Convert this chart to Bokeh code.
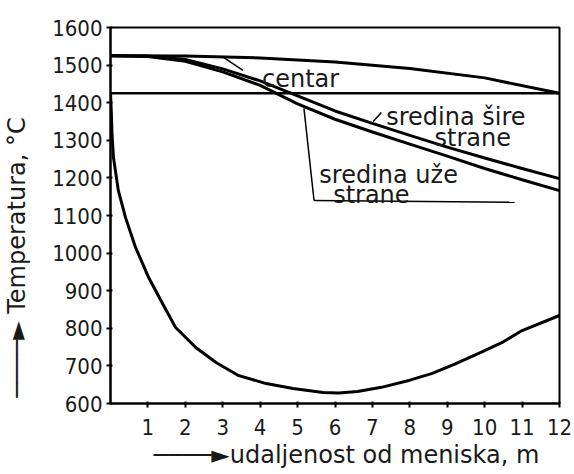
from bokeh.plotting import figure
from bokeh.models import FixedTicker
from bokeh.core.properties import value
from bokeh.embed import file_html
from bokeh.resources import INLINE

# ---- data ----
dist_center = [0, 2, 4, 6, 8, 10, 12]
temp_center = [1525, 1524, 1519, 1508, 1491, 1466, 1425]

dist_sides = [0, 1, 2, 3, 4, 5, 6, 7, 8, 9, 10, 11, 12]
temp_wide = [1525, 1524, 1515, 1490, 1458, 1418, 1378, 1345, 1313, 1282, 1253, 1225, 1198]
temp_narrow = [1525, 1523, 1510, 1482, 1446, 1397, 1356, 1322, 1290, 1258, 1225, 1195, 1166]

dist_ref = [0, 12]
temp_ref = [1425, 1425]

dist_surface = [0, 0.02, 0.04, 0.08, 0.21, 0.40, 0.67, 1.02, 1.39, 1.74, 2.28, 2.82, 3.43,
                4.16, 4.88, 5.68, 6.1, 6.6, 7.24, 8.0, 8.6, 9.2, 9.9, 10.5, 11.0, 12.0]
temp_surface = [1425, 1380, 1318, 1254, 1166, 1095, 1015, 935, 866, 802, 749, 709, 674,
                653, 640, 629, 628, 632, 643, 662, 680, 705, 736, 764, 794, 834]

x_ticks = [1, 2, 3, 4, 5, 6, 7, 8, 9, 10, 11, 12]
y_ticks = [600, 700, 800, 900, 1000, 1100, 1200, 1300, 1400, 1500, 1600]

label_texts = ["centar", "sredina šire", "strane", "sredina uže", "strane"]
label_x = [4.05, 7.37, 8.66, 5.58, 5.95]
label_y = [1464, 1361, 1305, 1208, 1155]

leader_x0 = [3.03, 7.02, 5.17, 5.44]
leader_y0 = [1520, 1350, 1385, 1140]
leader_x1 = [3.54, 7.24, 5.44, 10.8]
leader_y1 = [1486, 1374, 1140, 1135]

NB = "\u00a0"

p = figure(width=574, height=474, x_range=(0, 12), y_range=(600, 1600),
           output_backend="svg", toolbar_location=None,
           min_border_left=109, min_border_right=15,
           min_border_top=27, min_border_bottom=71)

p.background_fill_color = "white"
p.border_fill_color = "white"
p.outline_line_color = "black"
p.outline_line_width = 2
p.xgrid.visible = False
p.ygrid.visible = False

tick_font = "Liberation Sans Narrow, DejaVu Sans Condensed, sans-serif"

p.xaxis.ticker = FixedTicker(ticks=x_ticks)
p.yaxis.ticker = FixedTicker(ticks=y_ticks)
p.xaxis.minor_tick_line_color = None
p.yaxis.minor_tick_line_color = None
for ax in (p.xaxis, p.yaxis):
    ax.axis_line_width = 2
    ax.axis_line_color = "black"
    ax.major_tick_line_width = 2
    ax.major_tick_line_color = "black"
    ax.major_tick_out = 4
    ax.major_tick_in = 2
    ax.major_label_text_color = "#1a1a1a"
    ax.major_label_text_font = tick_font
    ax.axis_label_text_font = "DejaVu Sans"
    ax.axis_label_text_font_style = "normal"
    ax.axis_label_text_color = "#1a1a1a"

p.yaxis.major_label_text_font_size = "22px"
p.xaxis.major_label_text_font_size = "22px"
p.yaxis.major_label_standoff = 4
p.xaxis.major_label_standoff = 11

p.xaxis.axis_label = NB * 3 + "────►udaljenost od meniska, m"
p.xaxis.axis_label_text_font_size = "24px"
p.xaxis.axis_label_standoff = 3

p.yaxis.axis_label = "────► Temperatura, °C" + NB * 11
p.yaxis.axis_label_text_font_size = "24px"
p.yaxis.axis_label_standoff = 18

# curves
p.line(dist_ref, temp_ref, line_color="black", line_width=2.5)
p.line(dist_center, temp_center, line_color="black", line_width=3, line_join="round")
p.line(dist_sides, temp_wide, line_color="black", line_width=3, line_join="round")
p.line(dist_sides, temp_narrow, line_color="black", line_width=3, line_join="round")
p.line(dist_surface, temp_surface, line_color="black", line_width=3, line_join="round")

# leader lines
p.segment(x0=leader_x0, y0=leader_y0, x1=leader_x1, y1=leader_y1,
          line_color="black", line_width=1.5)

# inline labels
p.text(x=label_x, y=label_y, text=label_texts,
       text_font=value("DejaVu Sans"), text_font_size="24px",
       text_color="#1a1a1a", text_align="left", text_baseline="alphabetic")

open("out.html", "w").write(file_html(p, INLINE))
